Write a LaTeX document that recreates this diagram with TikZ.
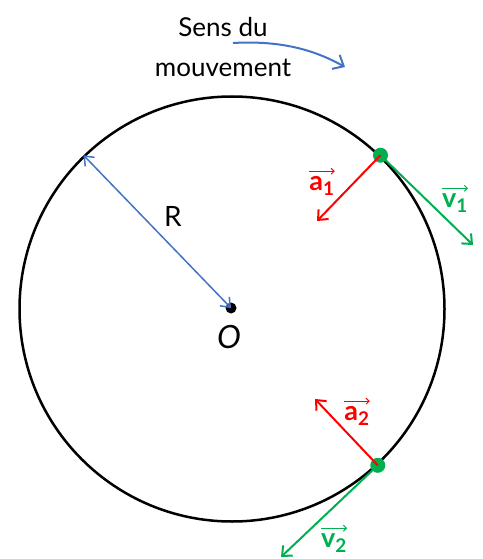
\documentclass[tikz,border=0pt]{standalone}
\usepackage{fontspec}
\setmainfont{Lato}
\usetikzlibrary{arrows.meta}
\definecolor{myred}{RGB}{255,0,0}
\definecolor{mygreen}{RGB}{0,176,80}
\definecolor{myblue}{RGB}{68,114,196}
\begin{document}
\begin{tikzpicture}[x=1pt,y=-1pt,
  mybarb/.tip={Straight Barb[length=8pt,width=14pt,line width=2pt]},
  thinbarb/.tip={Straight Barb[length=8pt,width=13pt,line width=1.5pt]},
  vec/.style={line width=2pt,-{mybarb}},
  over/.style={line width=1pt,-{Straight Barb[length=3pt,width=6pt,line width=1pt]}},
  pt/.style={circle,fill=mygreen,minimum size=15pt,inner sep=0pt},
  lab/.style={font=\fontsize{27}{29}\selectfont\bfseries,inner sep=0pt}]
\useasboundingbox (0,0) rectangle (482,559);
\node[circle,draw,line width=2.5pt,minimum size=425pt,inner sep=0pt] (C) at (232,309) {};
\node[circle,fill=black,minimum size=11pt,inner sep=0pt] (O) at (231,308) {};
\node[font=\itshape\fontsize{32}{34}\selectfont] (Olab) at (229,337) {O};
% radius
\draw[myblue,line width=1.5pt,{thinbarb}-{thinbarb}] (C.134) -- (O.center);
\node[font=\fontsize{28}{30}\selectfont] (R) at (173,216) {R};
% sens du mouvement
\node[align=center,font=\fontsize{26}{40}\selectfont] (sens) at (223,47) {Sens du\\mouvement};
\coordinate (s1) at (233,43);
\coordinate (s2) at (345,67);
\draw[myblue,line width=2pt,-{Straight Barb[length=9pt,width=16pt,line width=2pt]}] (s1) .. controls (285,40) and (318,52) .. (s2);
% point 1
\node[pt] (P1) at (C.46) {};
\coordinate (v1) at (473,245);
\coordinate (a1) at (317,221);
\draw[vec,mygreen] (P1.center) -- (v1);
\draw[vec,myred] (P1.center) -- (a1);
\node[lab,text=myred] (la1) at (322,186) {a\textsubscript{1}};
\draw[over,myred] ([yshift=5pt]la1.north west) -- ([yshift=5pt]la1.north east);
\node[lab,text=mygreen] (lv1) at (455,203) {v\textsubscript{1}};
\draw[over,mygreen] ([yshift=5pt]lv1.north west) -- ([yshift=5pt]lv1.north east);
% point 2
\node[pt] (P2) at (C.-47) {};
\coordinate (v2) at (281,557);
\coordinate (a2) at (315,399);
\draw[vec,mygreen] (P2.center) -- (v2);
\draw[vec,myred] (P2.center) -- (a2);
\node[lab,text=myred] (la2) at (357,416) {a\textsubscript{2}};
\draw[over,myred] ([yshift=5pt]la2.north west) -- ([yshift=5pt]la2.north east);
\node[lab,text=mygreen] (lv2) at (334,543) {v\textsubscript{2}};
\draw[over,mygreen] ([yshift=5pt]lv2.north west) -- ([yshift=5pt]lv2.north east);
\end{tikzpicture}
\end{document}
